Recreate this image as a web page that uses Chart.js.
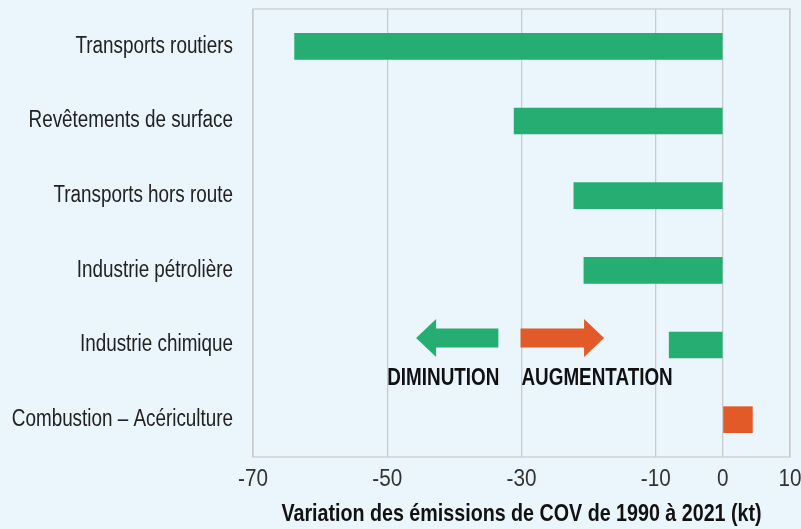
<!DOCTYPE html>
<html>
<head>
<meta charset="utf-8">
<script src="https://cdn.jsdelivr.net/npm/chart.js@4/dist/chart.umd.min.js"></script>
<style>
  html,body{margin:0;padding:0;background:#EBF5FC;}
  #wrap{width:801px;height:529px;}
</style>
</head>
<body>
<div id="wrap"><canvas id="c" width="801" height="529"></canvas></div>
<script>
const categories = [
  "Transports routiers",
  "Revêtements de surface",
  "Transports hors route",
  "Industrie pétrolière",
  "Industrie chimique",
  "Combustion – Acériculture"
];
const values = [-63.8, -31.1, -22.2, -20.7, -8.0, 4.4];
const xTicks = [-70, -50, -30, -10, 0, 10];
const axisTitle = "Variation des émissions de COV de 1990 à 2021 (kt)";
const labelDecrease = "DIMINUTION";
const labelIncrease = "AUGMENTATION";

const GREEN = "#26AD72";
const ORANGE = "#E25A27";
const BG = "#EBF5FC";
const GRID = "#C9CCCF";
const FONT = "'Liberation Sans', Arial, sans-serif";
const TICKFONT = "'Liberation Sans', TickFace, sans-serif";
const SX = 0.82;      // horizontal condensing of text glyphs
const SX_TICK = 0.9;  // tick numbers a little wider

const canvas = document.getElementById('c');
const ctx0 = canvas.getContext('2d');
const origFill = ctx0.fillText.bind(ctx0);
ctx0.fillText = function (text, x, y, maxWidth) {
  const sx = this.font.indexOf('TickFace') >= 0 ? SX_TICK : SX;
  this.save();
  this.translate(x, y);
  this.scale(sx, 1);
  if (maxWidth !== undefined) origFill(text, 0, 0, maxWidth / sx);
  else origFill(text, 0, 0);
  this.restore();
};

const bgPlugin = {
  id: 'bg',
  beforeDraw(chart) {
    const ctx = chart.ctx;
    ctx.save();
    ctx.fillStyle = BG;
    ctx.fillRect(0, 0, chart.width, chart.height);
    ctx.restore();
  },
  afterDatasetsDraw(chart) {
    const {ctx, chartArea: a, scales} = chart;
    ctx.save();
    ctx.strokeStyle = GRID;
    ctx.lineWidth = 1.3;
    ctx.strokeRect(a.left, a.top, a.right - a.left, a.bottom - a.top);
    const x = scales.x, y = scales.y;
    const cy = y.getPixelForValue(4) - 7;
    const shaft = 19, head = 38, headLen = 20;
    function arrow(tail, tip, color) {
      const dir = Math.sign(tip - tail);
      const base = tip - dir * headLen;
      ctx.fillStyle = color;
      ctx.beginPath();
      ctx.moveTo(tail, cy - shaft / 2);
      ctx.lineTo(base, cy - shaft / 2);
      ctx.lineTo(base, cy - head / 2);
      ctx.lineTo(tip, cy);
      ctx.lineTo(base, cy + head / 2);
      ctx.lineTo(base, cy + shaft / 2);
      ctx.lineTo(tail, cy + shaft / 2);
      ctx.closePath();
      ctx.fill();
    }
    ctx.font = "bold 23px " + FONT;
    ctx.textBaseline = 'middle';
    ctx.textAlign = 'left';
    const tx1 = x.getPixelForValue(-50);
    const w1 = ctx.measureText(labelDecrease).width * SX;
    const tx2 = x.getPixelForValue(-30);
    arrow(tx1 + w1 - 1, x.getPixelForValue(-45.7), GREEN);
    arrow(tx2 - 1, x.getPixelForValue(-17.7), ORANGE);
    ctx.fillStyle = "#111";
    const ty = y.getPixelForValue(4) + 34;
    ctx.fillText(labelDecrease, tx1, ty);
    ctx.fillText(labelIncrease, tx2, ty);
    ctx.restore();
  }
};

function zeroPad(scale) {
  scale.paddingTop = 0; scale.paddingBottom = 0;
  scale.paddingLeft = 0; scale.paddingRight = 0;
}

new Chart(canvas, {
  type: 'bar',
  data: {
    labels: categories,
    datasets: [{
      data: values,
      backgroundColor: values.map(v => v < 0 ? GREEN : ORANGE),
      borderWidth: 0,
      barThickness: 26
    }]
  },
  options: {
    indexAxis: 'y',
    responsive: false,
    animation: false,
    devicePixelRatio: 1,
    layout: { padding: { top: 9, right: 11, left: 0, bottom: 0 } },
    plugins: { legend: { display: false }, tooltip: { enabled: false } },
    scales: {
      x: {
        min: -70, max: 10,
        afterBuildTicks(scale) { scale.ticks = xTicks.map(v => ({ value: v })); },
        afterFit(scale) { scale.height = 72; zeroPad(scale); },
        grid: { color: GRID, lineWidth: 1.3, drawTicks: false },
        border: { display: false },
        ticks: {
          padding: 9,
          color: "#333",
          font: { family: TICKFONT, size: 23 },
          maxRotation: 0,
          autoSkip: false
        },
        title: {
          display: true,
          text: axisTitle,
          color: "#111",
          font: { family: FONT, size: 24, weight: 'bold' },
          padding: { top: 0, bottom: 0 }
        }
      },
      y: {
        afterFit(scale) { scale.width = 253; zeroPad(scale); },
        grid: { display: false, drawTicks: false },
        border: { display: false },
        ticks: {
          padding: 20,
          color: "#222",
          font: { family: FONT, size: 23 }
        }
      }
    }
  },
  plugins: [bgPlugin]
});
</script>
</body>
</html>
